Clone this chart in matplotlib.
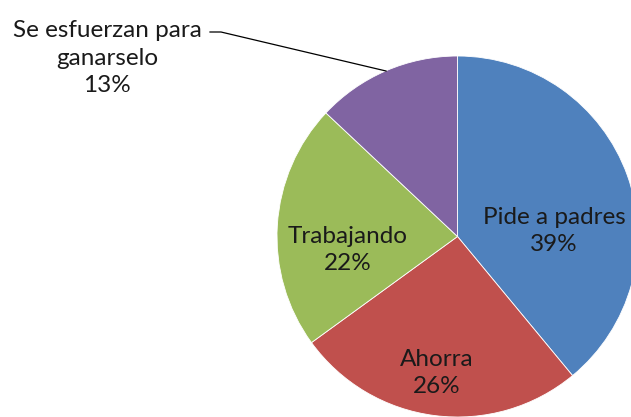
import matplotlib
matplotlib.use("Agg")
from matplotlib import pyplot as plt

categories = ["Pide a padres", "Ahorra", "Trabajando", "Se esfuerzan para\nganarselo"]
values = [39, 26, 22, 13]
colors = ["#4F81BD", "#C0504D", "#9BBB59", "#8064A2"]

W, H = 631, 417


def main():
    plt.rcParams["font.family"] = ["Lato", "DejaVu Sans"]
    fig = plt.figure(figsize=(W / 100, H / 100), dpi=100)
    ax = fig.add_axes([0, 0, 1, 1])

    cx, cy, r = 457.5, H - 236.5, 180.5
    ax.pie(
        values,
        colors=colors,
        startangle=90,
        counterclock=False,
        center=(cx, cy),
        radius=r,
        wedgeprops=dict(edgecolor="white", linewidth=0.6),
        frame=True,
    )
    ax.set_xlim(0, W)
    ax.set_ylim(0, H)
    ax.set_aspect("equal")
    ax.axis("off")

    text_kw = dict(ha="center", va="center", fontsize=17.5, color="#1a1a1a", linespacing=1.38)
    inside = [(554, 231), (437, 373), (348, 250)]
    for name, val, (x, y) in zip(categories[:3], values[:3], inside):
        ax.text(x, H - y, f"{name}\n{val}%", **text_kw)

    ax.text(107, H - 58, f"{categories[3]}\n{values[3]}%", **text_kw)
    ax.plot([210, 221, 386], [H - 32, H - 32, H - 71], color="black", lw=0.9)

    fig.savefig("out.png", dpi=100)


if __name__ == "__main__":
    main()
